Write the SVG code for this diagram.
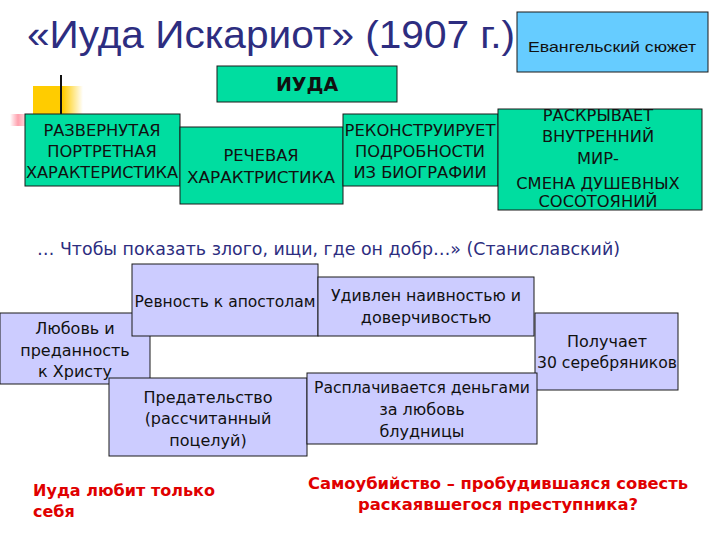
<svg xmlns="http://www.w3.org/2000/svg" width="720" height="540" viewBox="0 0 720 540">
<defs>
<style>
.title{font-family:"Liberation Sans",Arial,sans-serif;font-size:38px;fill:#2d2d80}
.quote{font-family:"DejaVu Sans","Liberation Sans",sans-serif;font-size:17.5px;fill:#2d2d80}
.green{fill:#00dda0;stroke:#1a1a1a;stroke-width:1}
.blue{fill:#66ccff;stroke:#1a1a1a;stroke-width:1}
.lav{fill:#ccccff;stroke:#1a1a1a;stroke-width:1}
.cap{font-family:"DejaVu Sans","Liberation Sans",sans-serif;font-size:16.3px;fill:#111;text-anchor:middle}
.lt{font-family:"DejaVu Sans","Liberation Sans",sans-serif;font-size:16px;fill:#111;text-anchor:middle}
.red{font-family:"DejaVu Sans","Liberation Sans",sans-serif;font-size:16px;font-weight:bold;fill:#e00000}
</style>
<linearGradient id="yel" x1="0" y1="0" x2="1" y2="0">
<stop offset="0" stop-color="#ffcc00"/>
<stop offset="0.6" stop-color="#ffcc00"/>
<stop offset="1" stop-color="#ffcc00" stop-opacity="0"/>
</linearGradient>
<linearGradient id="pink" x1="0" y1="0" x2="1" y2="0">
<stop offset="0" stop-color="#ff8899" stop-opacity="0"/>
<stop offset="0.5" stop-color="#ff8899" stop-opacity="0.8"/>
<stop offset="1" stop-color="#ff8899" stop-opacity="0.3"/>
</linearGradient>
</defs>
<rect width="720" height="540" fill="#ffffff"/>

<g id="decor">
<rect x="33" y="86" width="50" height="28" fill="url(#yel)"/>
<line x1="61" y1="75" x2="61" y2="114" stroke="#111" stroke-width="2"/>
<rect x="10" y="114" width="16" height="12" fill="url(#pink)"/>
</g>

<g id="title">
<text class="title" x="27" y="48" textLength="488" lengthAdjust="spacingAndGlyphs">«Иуда Искариот» (1907 г.)</text>
</g>

<g id="evangel">
<rect class="blue" x="517" y="12" width="191" height="60"/>
<text x="612" y="52" font-family="Liberation Sans, Arial, sans-serif" font-size="15" fill="#111" text-anchor="middle" textLength="168" lengthAdjust="spacingAndGlyphs">Евангельский сюжет</text>
</g>

<g id="iuda">
<rect class="green" x="217" y="66" width="180" height="36"/>
<text x="307" y="91" font-family="DejaVu Sans, Liberation Sans, sans-serif" font-size="19" font-weight="bold" fill="#111" text-anchor="middle">ИУДА</text>
</g>

<g id="portret">
<rect class="green" x="25" y="114" width="155" height="72"/>
<text class="cap" x="102" y="136">РАЗВЕРНУТАЯ</text>
<text class="cap" x="102" y="157">ПОРТРЕТНАЯ</text>
<text class="cap" x="102" y="178" textLength="152" lengthAdjust="spacingAndGlyphs">ХАРАКТЕРИСТИКА</text>
</g>

<g id="rech">
<rect class="green" x="180" y="127" width="163" height="77"/>
<text class="cap" x="261" y="161">РЕЧЕВАЯ</text>
<text class="cap" x="261" y="183" textLength="148" lengthAdjust="spacingAndGlyphs">ХАРАКТРИСТИКА</text>
</g>

<g id="rekonstr">
<rect class="green" x="343" y="114" width="155" height="72"/>
<text class="cap" x="420" y="136" textLength="151" lengthAdjust="spacingAndGlyphs">РЕКОНСТРУИРУЕТ</text>
<text class="cap" x="420" y="157">ПОДРОБНОСТИ</text>
<text class="cap" x="420" y="178">ИЗ БИОГРАФИИ</text>
</g>

<g id="raskr">
<rect class="green" x="498" y="109" width="204" height="101"/>
<text class="cap" x="598" y="121">РАСКРЫВАЕТ</text>
<text class="cap" x="598" y="142">ВНУТРЕННИЙ</text>
<text class="cap" x="598" y="164">МИР-</text>
<text class="cap" x="598" y="189">СМЕНА ДУШЕВНЫХ</text>
<text class="cap" x="598" y="207">СОСОТОЯНИЙ</text>
</g>

<g id="quote">
<text class="quote" x="37" y="255" textLength="583" lengthAdjust="spacingAndGlyphs">… Чтобы показать злого, ищи, где он добр…» (Станиславский)</text>
</g>

<g id="lyubov">
<rect class="lav" x="0" y="313" width="150" height="71"/>
<text class="lt" x="75" y="334">Любовь и</text>
<text class="lt" x="75" y="356">преданность</text>
<text class="lt" x="75" y="377">к Христу</text>
</g>

<g id="revnost">
<rect class="lav" x="132" y="264" width="186" height="72"/>
<text class="lt" x="225" y="307" textLength="181" lengthAdjust="spacingAndGlyphs">Ревность к апостолам</text>
</g>

<g id="udivlen">
<rect class="lav" x="318" y="277" width="216" height="59"/>
<text class="lt" x="426" y="301" textLength="190" lengthAdjust="spacingAndGlyphs">Удивлен наивностью и</text>
<text class="lt" x="426" y="323">доверчивостью</text>
</g>

<g id="poluchaet">
<rect class="lav" x="535" y="313" width="143" height="77"/>
<text class="lt" x="607" y="347">Получает</text>
<text class="lt" x="607" y="368" textLength="140" lengthAdjust="spacingAndGlyphs">30 серебряников</text>
</g>

<g id="predat">
<rect class="lav" x="109" y="378" width="198" height="78"/>
<text class="lt" x="208" y="403">Предательство</text>
<text class="lt" x="208" y="424">(рассчитанный</text>
<text class="lt" x="208" y="446">поцелуй)</text>
</g>

<g id="rasplach">
<rect class="lav" x="307" y="373" width="230" height="71"/>
<text class="lt" x="422" y="393" textLength="216" lengthAdjust="spacingAndGlyphs">Расплачивается деньгами</text>
<text class="lt" x="422" y="415">за любовь</text>
<text class="lt" x="422" y="437">блудницы</text>
</g>

<g id="conclusions">
<text class="red" x="33" y="496" textLength="182" lengthAdjust="spacingAndGlyphs">Иуда любит только</text>
<text class="red" x="33" y="517">себя</text>
<text class="red" x="498" y="489" text-anchor="middle" textLength="380" lengthAdjust="spacingAndGlyphs">Самоубийство – пробудившаяся совесть</text>
<text class="red" x="498" y="510" text-anchor="middle" textLength="280" lengthAdjust="spacingAndGlyphs">раскаявшегося преступника?</text>
</g>

<g id="connectors"></g>
</svg>
